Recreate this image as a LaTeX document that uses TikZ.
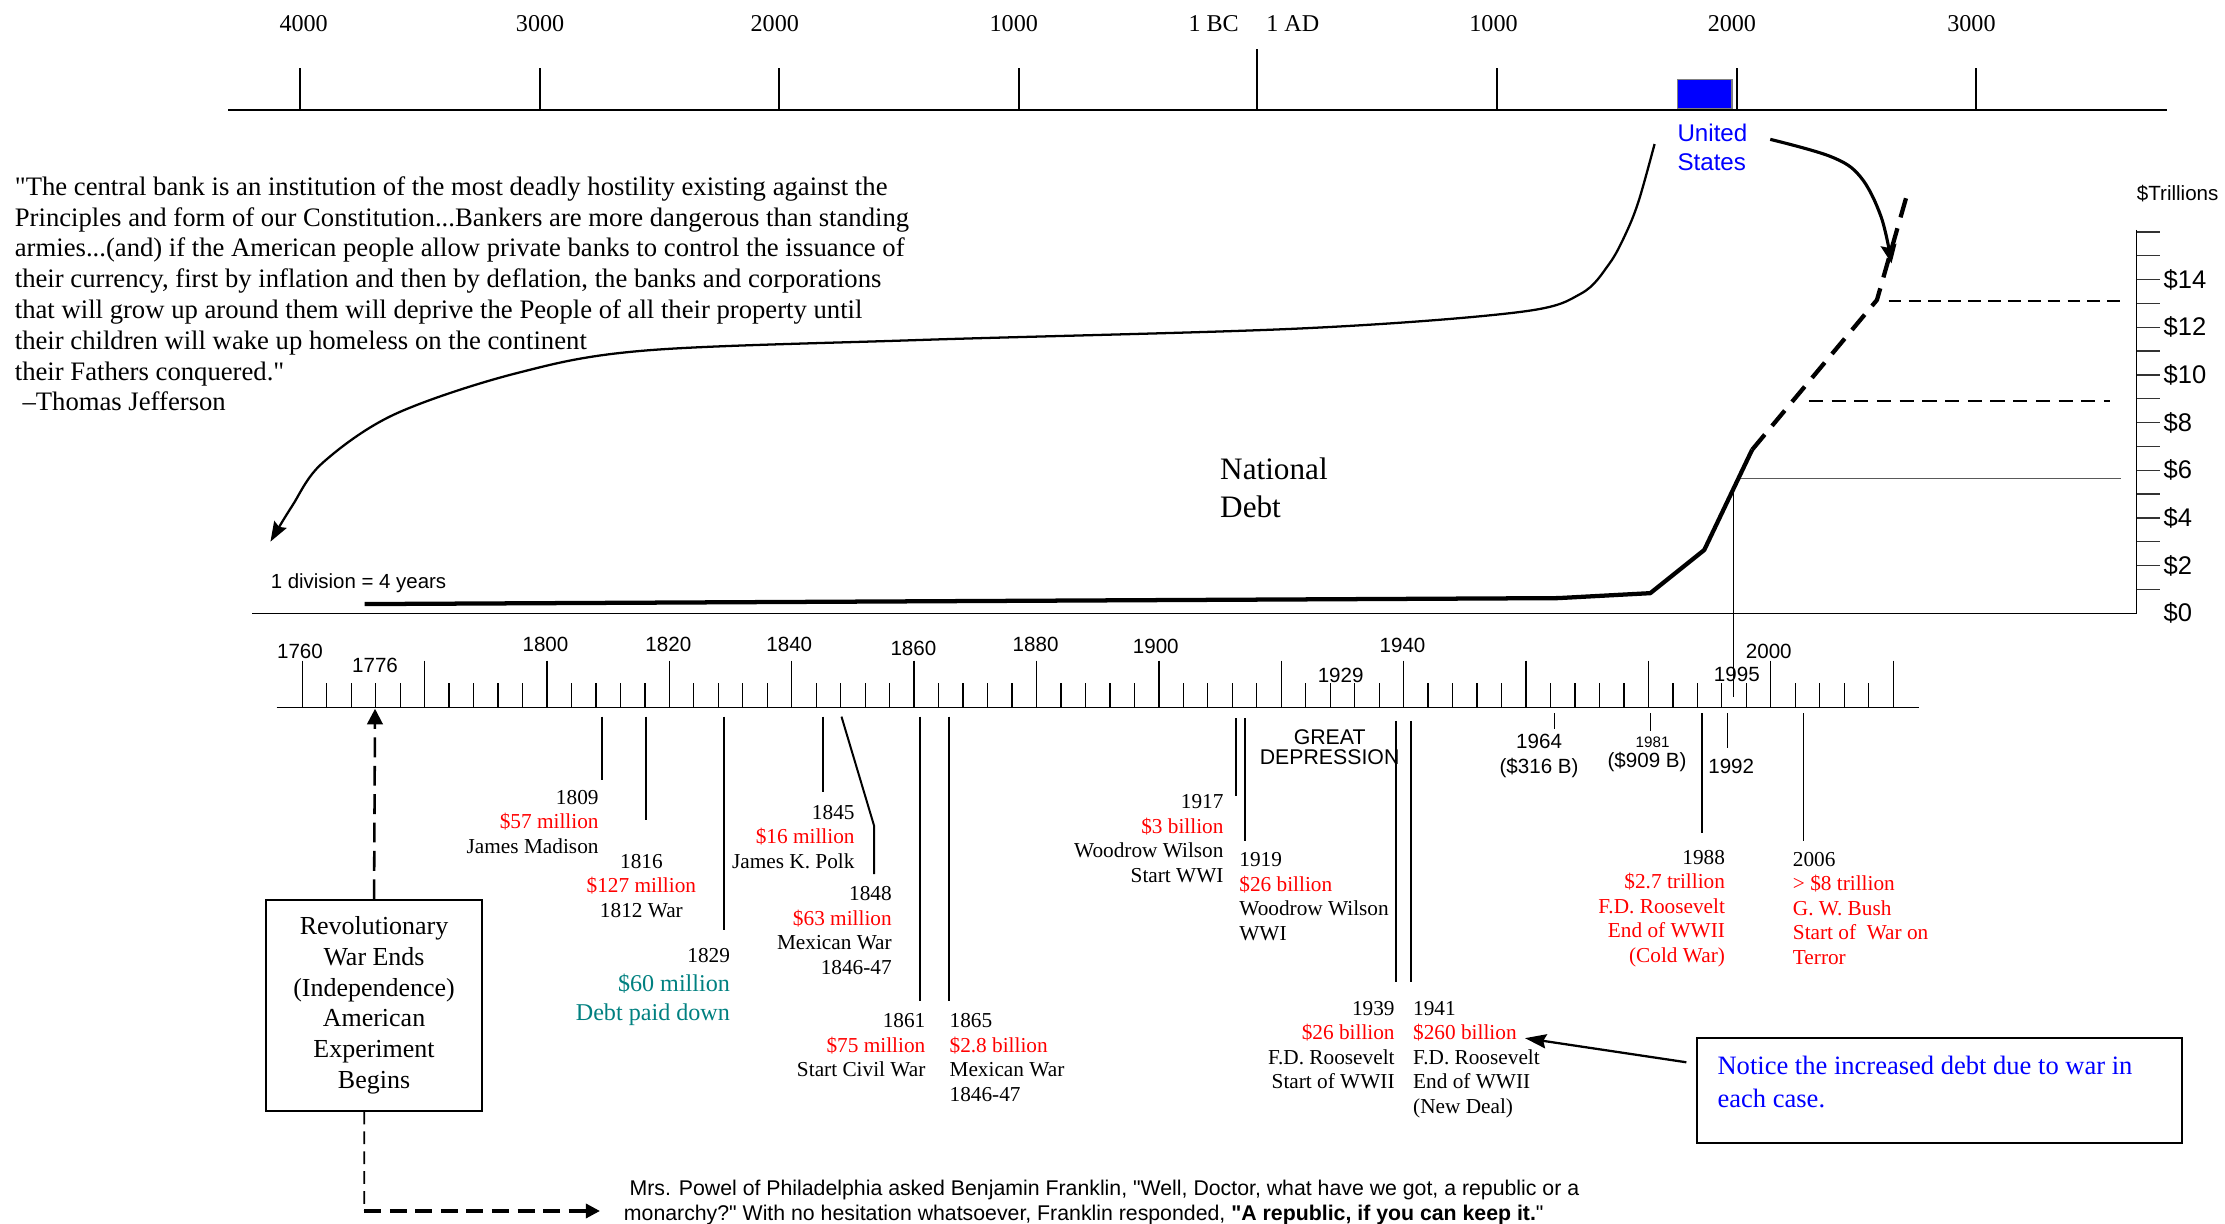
\documentclass[tikz,border=0pt]{standalone}
\usepackage{fontspec}
\setmainfont{Liberation Serif}[Ligatures=TeXOff]
\setsansfont{Liberation Sans}[Ligatures=TeXOff]
\usetikzlibrary{arrows.meta,calc}
\definecolor{tealtxt}{RGB}{0,128,128}
\tikzset{
  topyr/.style={inner sep=0pt, font=\fontsize{17}{20}\selectfont},
  yr/.style={inner sep=0pt, font=\sffamily\fontsize{14.5}{16}\selectfont},
  ann/.style={inner sep=0pt, font=\fontsize{15}{17.3}\selectfont, align=right, anchor=north east},
  annl/.style={ann, align=left, anchor=north west},
  annc/.style={ann, align=center, anchor=north},
  evline/.style={line width=1.4pt},
  evthin/.style={line width=0.9pt},
  dollar/.style={inner sep=0pt, anchor=west, font=\sffamily\fontsize{18}{20}\selectfont},
  myarrow/.style={-{Stealth[length=14pt,width=10pt,inset=2pt]}},
  tri/.style={-{Triangle[length=11pt,width=11pt]}},
}
\begin{document}
\begin{tikzpicture}[x=1pt,y=-1pt]
\useasboundingbox (0,0) rectangle (1568,862);

% ---------- top timeline ----------
\draw[line width=1.9pt] (160.7,77.5) -- (1527,77.5);
\foreach \x in {211.6,380.7,548.8,717.9,1055,1224.2,1392.5}
  \draw[line width=1.4pt] (\x,48) -- (\x,77.5);
\draw[line width=1.4pt] (886,34.8) -- (886,77.5);
\node[topyr] (t4000) at (214,16.4) {4000};
\node[topyr] (t3000) at (380.6,16.4) {3000};
\node[topyr] (t2000) at (546,16.4) {2000};
\node[topyr] (t1000) at (714.4,16.4) {1000};
\node[topyr] (tbc) at (855.3,16.4) {1 BC};
\node[topyr, anchor=west] (tad) at (892.2,16.4) {1 AD};
\node[topyr] (t1000b) at (1052.5,16.4) {1000};
\node[topyr] (t2000b) at (1220.5,16.4) {2000};
\node[topyr] (t3000b) at (1389.3,16.4) {3000};
\node[draw=black!50, fill=blue, line width=0.8pt, minimum width=38.6pt, minimum height=20.4pt, inner sep=0pt] (usbox) at (1201.3,66.1) {};
\node[inner sep=0pt, anchor=north west, align=left, text=blue, font=\sffamily\fontsize{17}{20}\selectfont] (us) at (1182,87.4) {United\\States};

% ---------- quote ----------
\node[inner sep=0pt, anchor=north west, align=left, font=\fontsize{18.8}{21.7}\selectfont] (quote) at (10.3,124.2)
{"The central bank is an institution of the most deadly hostility existing against the\\
Principles and form of our Constitution...Bankers are more dangerous than standing\\
armies...(and) if the American people allow private banks to control the issuance of\\
their currency, first by inflation and then by deflation, the banks and corporations\\
that will grow up around them will deprive the People of all their property until\\
their children will wake up homeless on the continent\\
their Fathers conquered."\\
\hspace*{5.4pt}–Thomas Jefferson};

% curved arrow from United States to the start of the debt curve
\coordinate (qstart) at (1166,101.5);
\coordinate (qend) at (190.6,381.7);
\draw[line width=1.6pt, myarrow] plot[smooth, tension=0.55] coordinates {
 (qstart) (1155,141) (1146,164) (1134,186) (1114,207) (1070,220) (916,231.5)
 (648,239.6) (455,247) (364,263) (278,292) (227,326.5) (205.6,357) (qend)};

% curved arrow to the projection
\coordinate (rstart) at (1247.5,98.2);
\coordinate (rend) at (1333,185.6);
\draw[line width=2.2pt, -{Stealth[length=13pt,width=11pt,inset=2pt]}] plot[smooth, tension=0.6] coordinates {
 (rstart) (1290.3,110.4) (1311,124.5) (1325.6,152.7) (rend)};

% ---------- debt graph ----------
\draw[line width=1.1pt] (177.6,432.2) -- (1505.7,432.2);
\draw[line width=1.2pt] (1505.7,162) -- (1505.7,432.2);
\foreach \k in {1,...,16}
  \draw[line width=1pt, black!80] (1505.7,{432.2-16.8*\k}) -- (1522.5,{432.2-16.8*\k});
\foreach \v in {0,2,...,14}
  \node[dollar] (d\v) at (1524.6,{432.2-16.8*\v}) {\$\v};
\node[inner sep=0pt, anchor=west, font=\sffamily\fontsize{14.5}{16}\selectfont] (trill) at (1505.7,136.2) {\$Trillions};

% reference lines
\draw[line width=0.9pt, black!65] (1225.2,337.1) -- (1494.4,337.1);
\draw[line width=0.9pt] (1221.7,344.2) -- (1221.7,491);
\draw[line width=1.5pt, dash pattern=on 10pt off 6pt] (1274.7,282.6) -- (1487,282.6);
\draw[line width=2pt, dash pattern=on 9pt off 5pt] (1331,212.1) -- (1496,212.1);

% debt curve
\draw[line width=3pt, line join=round] (257,425.7) -- (1098,421.5) -- (1163,418) -- (1201,387.6) -- (1234.7,317);
\draw[line width=3pt, dash pattern=on 14pt off 8pt] (1234.7,317) -- (1322.7,211.4) -- (1345.2,132.7);

\node[inner sep=0pt, anchor=north west, align=left, font=\fontsize{22}{26.5}\selectfont] (natdebt) at (859.7,322.5) {National\\Debt};
\node[inner sep=0pt, anchor=west, font=\sffamily\fontsize{14.4}{16}\selectfont] (div) at (190.6,411) {1 division = 4 years};

% ---------- lower timeline ----------
\draw[line width=1.2pt] (195,498.5) -- (1352.2,498.5);
\foreach \i in {0,...,65}{
  \pgfmathsetmacro\xx{213+17.248*\i}
  \pgfmathtruncatemacro\m{mod(\i,5)}
  \ifnum\m=0
    \draw[line width=0.9pt] (\xx,465.6) -- (\xx,498.5);
  \else
    \draw[line width=0.9pt] (\xx,481.5) -- (\xx,498.5);
  \fi
}
\node[yr] (y1760) at (211.4,459.2) {1760};
\node[yr] (y1776) at (264.3,468.6) {1776};
\node[yr] (y1800) at (384.4,453.8) {1800};
\node[yr] (y1820) at (471,453.8) {1820};
\node[yr] (y1840) at (556.2,453.8) {1840};
\node[yr] (y1860) at (643.7,456.9) {1860};
\node[yr] (y1880) at (729.8,453.8) {1880};
\node[yr] (y1900) at (814.5,455.7) {1900};
\node[yr] (y1929) at (944.8,475.7) {1929};
\node[yr] (y1940) at (988.4,455) {1940};
\node[yr] (y2000) at (1246.5,459.2) {2000};
\node[yr] (y1995) at (1224,475.2) {1995};

% event drop lines
\draw[evline] (424,505) -- (424,550);
\draw[evline] (455,505) -- (455,578);
\draw[evline] (510.5,505) -- (510.5,655.4);
\draw[evline] (580,505) -- (580,558);
\draw[evline] (593,505) -- (616,582) -- (616,616);
\draw[evline] (648,505) -- (648,705.5);
\draw[evline] (669,505) -- (669,705.5);
\draw[evline] (871,506) -- (871,561);
\draw[evline] (877.5,506) -- (877.5,592.4);
\draw[evline] (984,508) -- (984,692.3);
\draw[evline] (994,508) -- (994,692.3);
\draw[evthin] (1095.5,502.5) -- (1095.5,514);
\draw[evthin] (1163,502.5) -- (1163,515);
\draw[evthin] (1199.5,502.5) -- (1199.5,587);
\draw[evthin] (1217.5,502.5) -- (1217.5,527);
\draw[evthin] (1271,502.5) -- (1271,592.4);

% event annotations
\node[ann] (e1809) at (422,556.5) {1809\\\textcolor{red}{\$57 million}\\James Madison};
\node[annc] (e1816) at (452,601.6) {1816\\\textcolor{red}{\$127 million}\\1812 War};
\node[ann] (e1829) at (514.6,668) {1829};
\node[ann, text=tealtxt, font=\fontsize{17}{20.5}\selectfont] (e1829b) at (514.6,686.4) {\$60 million\\Debt paid down};
\node[ann] (e1845) at (602.4,567) {1845\\\textcolor{red}{\$16 million}\\James K. Polk};
\node[ann] (e1848) at (628.6,624.6) {1848\\\textcolor{red}{\$63 million}\\Mexican War\\1846-47};
\node[ann] (e1861) at (652.3,714) {1861\\\textcolor{red}{\$75 million}\\Start Civil War};
\node[annl] (e1865) at (669,714) {1865\\\textcolor{red}{\$2.8 billion}\\Mexican War\\1846-47};
\node[ann] (e1917) at (862.4,559.6) {1917\\\textcolor{red}{\$3 billion}\\Woodrow Wilson\\Start WWI};
\node[annl] (e1919) at (873.2,600.6) {1919\\\textcolor{red}{\$26 billion}\\Woodrow Wilson\\WWI};
\node[ann] (e1939) at (983,705.2) {1939\\\textcolor{red}{\$26 billion}\\F.D. Roosevelt\\Start of WWII};
\node[annl] (e1941) at (995.7,705.2) {1941\\\textcolor{red}{\$260 billion}\\F.D. Roosevelt\\End of WWII\\(New Deal)};
\node[ann] (e1988) at (1215.8,598.8) {1988\\\textcolor{red}{\$2.7 trillion}\\\textcolor{red}{F.D. Roosevelt}\\\textcolor{red}{End of WWII}\\\textcolor{red}{(Cold War)}};
\node[annl] (e2006) at (1263.3,600.2) {2006\\\textcolor{red}{> \$8 trillion}\\\textcolor{red}{G. W. Bush}\\\textcolor{red}{Start of\ \ War on}\\\textcolor{red}{Terror}};

\node[inner sep=0pt, align=center, font=\sffamily\fontsize{15}{14.5}\selectfont] (gd) at (937,526.5) {GREAT\\DEPRESSION};
\node[inner sep=0pt, align=center, anchor=north, font=\sffamily\fontsize{14.5}{17.6}\selectfont] (e1964) at (1084.6,517.5) {1964\\(\$316 B)};
\node[inner sep=0pt, font=\sffamily\fontsize{10.7}{12}\selectfont] (e1981) at (1164.6,523.4) {1981};
\node[inner sep=0pt, font=\sffamily\fontsize{14.5}{16}\selectfont] (e1981b) at (1160.7,536.8) {(\$909 B)};
\node[yr] (e1992) at (1220,540.3) {1992};

% ---------- revolutionary box ----------
\node[draw, line width=1.3pt, minimum width=152.2pt, minimum height=148.4pt, inner sep=0pt, align=center,
      font=\fontsize{18.3}{21.6}\selectfont] (rev) at (263.6,708.5)
  {Revolutionary\\War Ends\\(Independence)\\American\\Experiment\\Begins};
\coordinate (ind) at (264.3,499.5);
\draw[line width=1.8pt, dash pattern=on 14pt off 6pt, tri] (rev.north) -- (ind);
\coordinate (revb) at ($(rev.south)+(-6.9,0)$);
\coordinate (bend) at (256.7,853.4);
\coordinate (frk) at (422.8,853.4);
\draw[line width=1.2pt, dash pattern=on 9pt off 5pt] (revb) -- (bend);
\draw[line width=2.3pt, dash pattern=on 12pt off 6pt, -{Triangle[length=10pt,width=10pt]}] (bend) -- (frk);

\node[inner sep=0pt, anchor=north west, align=left, font=\sffamily\fontsize{15}{17.6}\selectfont] (franklin) at (439.5,831.1)
 {\hspace*{4pt}Mrs. Powel of Philadelphia asked Benjamin Franklin, "Well, Doctor, what have we got, a republic or a\\
 monarchy?" With no hesitation whatsoever, Franklin responded, \textbf{"A republic, if you can keep it.}"};

% ---------- notice box ----------
\node[draw, line width=1.5pt, minimum width=342.1pt, minimum height=73.6pt, inner sep=0pt] (notice) at (1366.65,768.5) {};
\node[inner sep=0pt, anchor=north west, align=left, text=blue, font=\fontsize{18.7}{23.5}\selectfont] (noticetxt) at (1210.2,743.8)
 {Notice the increased debt due to war in\\each case.};
\coordinate (nstart) at (1188.4,748.6);
\coordinate (nend) at (1074.7,731.6);
\draw[line width=1.6pt, -{Stealth[length=15pt,width=10pt,inset=2pt]}] (nstart) -- (nend);

\end{tikzpicture}
\end{document}
